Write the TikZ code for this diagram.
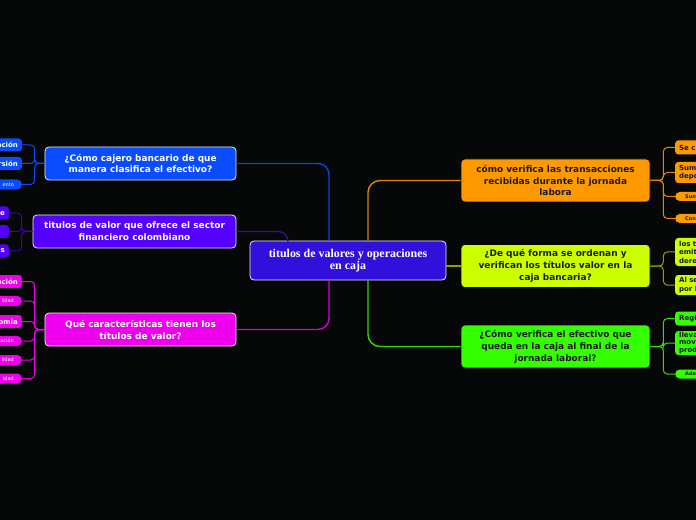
\documentclass[tikz,border=0pt]{standalone}
\usepackage{fontspec}
\setmainfont{DejaVu Sans}
\newfontfamily\serifb{Liberation Serif}
\definecolor{bg}{HTML}{060707}
\definecolor{cmain}{HTML}{3210DC}
\definecolor{cblue}{HTML}{0A4CFF}
\definecolor{cpurp}{HTML}{5500FF}
\definecolor{cmag}{HTML}{EE00EE}
\definecolor{corange}{HTML}{FF9900}
\definecolor{cyel}{HTML}{CCFF00}
\definecolor{cgreen}{HTML}{33FF00}
\definecolor{lblue}{HTML}{0B45E0}
\definecolor{lpurp}{HTML}{3A0A99}
\definecolor{lmag}{HTML}{D800D8}
\definecolor{lorange}{HTML}{E08800}
\definecolor{lyel}{HTML}{8FA000}
\definecolor{lgreen}{HTML}{33DD00}
\definecolor{dtext}{HTML}{1A1A1A}
\begin{document}
\begin{tikzpicture}[x=1bp,y=-1bp,
  mainbox/.style={rounded corners=4bp, draw=white!85!gray, line width=0.8bp, align=center,
    font=\fontsize{9}{12}\selectfont\bfseries, inner sep=0pt, text=white},
  rbox/.style={rounded corners=4bp, draw=bg, line width=0.6bp, align=center,
    font=\fontsize{9}{12}\selectfont\bfseries, inner sep=0pt, text=dtext,
    minimum width=189bp, minimum height=43bp},
  leafL/.style={rounded corners=3bp, inner ysep=0pt, inner xsep=4bp, text width=50bp, align=right,
    font=\fontsize{7}{8.5}\selectfont\bfseries, text=white, anchor=east, minimum height=13bp},
  pillL/.style={rounded corners=4.5bp, inner ysep=0pt, inner xsep=8bp, text width=44bp, align=right,
    font=\fontsize{5}{6}\selectfont, text=white, anchor=east, minimum height=10bp},
  leafR/.style={rounded corners=3bp, inner ysep=0pt, inner xsep=4bp, text width=50bp, align=left,
    font=\fontsize{7}{8.5}\selectfont\bfseries, text=dtext, anchor=west, minimum height=14bp},
  pillR/.style={rounded corners=4.5bp, inner ysep=0pt, inner xsep=10bp, text width=44bp, align=left,
    font=\fontsize{5}{6}\selectfont\bfseries, text=dtext, anchor=west, minimum height=9bp},
  conn/.style={line width=1.4bp, rounded corners=11bp},
  brk/.style={line width=1bp, rounded corners=4bp}
]
\fill[bg] (0,0) rectangle (696,520);
\clip (0,0) rectangle (696,520);

% central node
\node[mainbox, fill=cmain, minimum width=196bp, minimum height=39bp,
  font=\serifb\fontsize{12}{11.5}\selectfont\bfseries] (c) at (348,260.5)
  {titulos de valores y operaciones\\en caja};

% left main nodes
\node[mainbox, fill=cblue, minimum width=191bp, minimum height=33bp] (b1) at (140.5,163.5)
  {¿Cómo cajero bancario de que\\manera clasifica el efectivo?};
\node[mainbox, fill=cpurp, minimum width=203bp, minimum height=33bp] (b2) at (134.5,231.5)
  {titulos de valor que ofrece el sector\\financiero colombiano};
\node[mainbox, fill=cmag, minimum width=191bp, minimum height=33bp] (b3) at (140.5,329.5)
  {Qué características tienen los\\títulos de valor?};

% right main nodes
\node[rbox, fill=corange] (r1) at (555.5,180.5)
  {cómo verifica las transacciones\\recibidas durante la jornada\\labora};
\node[rbox, fill=cyel] (r2) at (555.5,266)
  {¿De qué forma se ordenan y\\verifican los títulos valor en la\\caja bancaria?};
\node[rbox, fill=cgreen] (r3) at (555.5,346.5)
  {¿Cómo verifica el efectivo que\\queda en la caja al final de la\\jornada laboral?};

% main connectors
\draw[conn, lblue] (b1.east) -| ([xshift=-19bp]c.north);
\draw[conn, lpurp, rounded corners=10bp] (b2.east) -| ([xshift=-60bp]c.north);
\draw[conn, lmag] (b3.east) -| ([xshift=-19bp]c.south);
\draw[conn, lorange, rounded corners=12bp] ([xshift=20bp]c.north) |- (r1.west);
\draw[conn, lyel] (c.east |- r2.west) -- (r2.west);
\draw[conn, lgreen, rounded corners=12bp] ([xshift=20bp]c.south) |- (r3.west);

% left leaves: blue
\node[leafL, fill=cblue] (L1) at (22,145) {ación};
\node[leafL, fill=cblue] (L2) at (22,163.5) {rsión};
\node[pillL, fill=cblue] (L3) at (22,184.5) {ento};
\foreach \l in {L1,L2,L3} \draw[brk, cblue] (b1.west) -- ++(-10,0) |- (\l.east);

% left leaves: purple
\node[leafL, fill=cpurp] (P1) at (9,213) {le};
\node[leafL, fill=cpurp] (P2) at (9,231.5) {};
\node[leafL, fill=cpurp] (P3) at (9,251) {es};
\foreach \l in {P1,P2,P3} \draw[brk, lpurp] (b2.west) -- ++(-11,0) |- (\l.east);

% left leaves: magenta
\node[leafL, fill=cmag] (M1) at (22,281.5) {ación};
\node[pillL, fill=cmag] (M2) at (22,301) {lidad};
\node[leafL, fill=cmag] (M3) at (22,321.5) {omía};
\node[pillL, fill=cmag] (M4) at (22,341) {ación};
\node[pillL, fill=cmag] (M5) at (22,360) {lidad};
\node[pillL, fill=cmag] (M6) at (22,378.5) {idad};
\foreach \l in {M1,M2,M3,M4,M5,M6} \draw[brk, cmag] (b3.west) -- ++(-10,0) |- (\l.east);

% right leaves: orange
\node[leafR, fill=corange] (O1) at (675,147.5) {Se c};
\node[leafR, fill=corange, minimum height=21bp] (O2) at (675,172.5) {Sum\\depó};
\node[pillR, fill=corange] (O3) at (675,196.5) {Sum};
\node[pillR, fill=corange] (O4) at (675,218.5) {Con};
\foreach \l in {O1,O2,O3,O4} \draw[brk, lorange] (r1.east) -- ++(13,0) |- (\l.west);

% right leaves: yellow
\node[leafR, fill=cyel, minimum height=28bp] (Y1) at (675,252) {los t\\emit\\dere};
\node[leafR, fill=cyel, minimum height=20bp] (Y2) at (675,285) {Al se\\por l};
\foreach \l in {Y1,Y2} \draw[brk, lyel] (r2.east) -- ++(13,0) |- (\l.west);

% right leaves: green
\node[leafR, fill=cgreen] (G1) at (675,318.5) {Regi};
\node[leafR, fill=cgreen, minimum height=24bp, font=\fontsize{7}{7.5}\selectfont\bfseries] (G2) at (675,343) {lleva\\movi\\prod};
\node[pillR, fill=cgreen] (G3) at (675,374) {Ade};
\foreach \l in {G1,G2,G3} \draw[brk, lgreen] (r3.east) -- ++(13,0) |- (\l.west);
\end{tikzpicture}
\end{document}
